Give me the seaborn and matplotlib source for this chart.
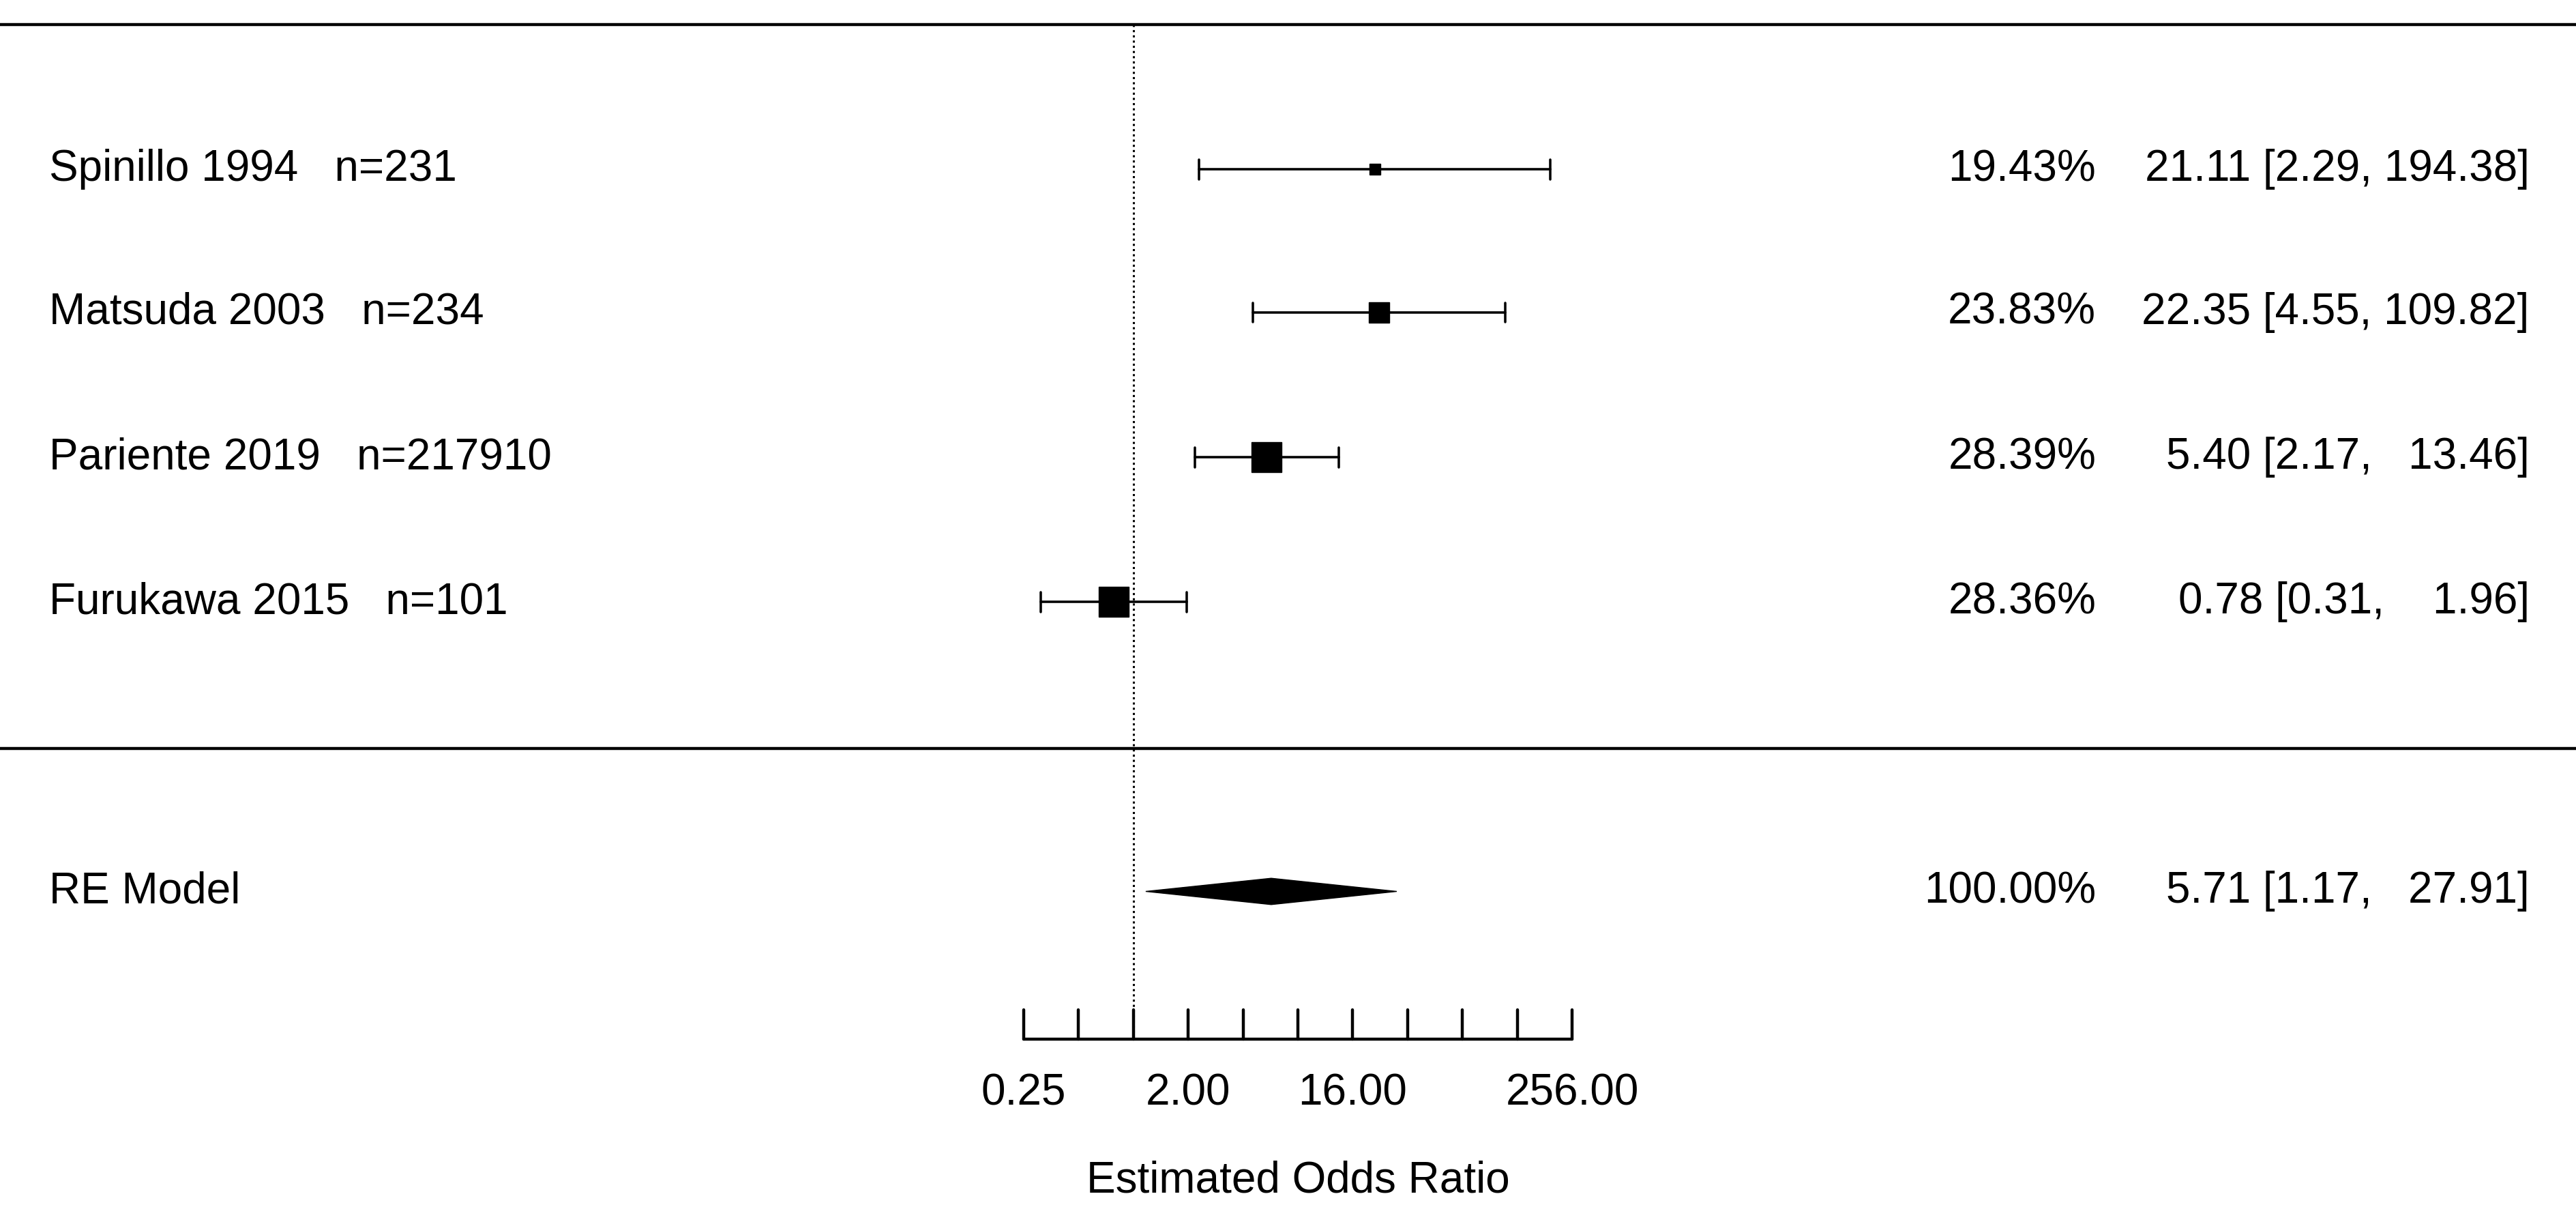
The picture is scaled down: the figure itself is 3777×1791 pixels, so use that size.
import numpy as np
import matplotlib.pyplot as plt
import seaborn as sns
import pandas as pd

# study data
studies = ['Spinillo 1994   n=231', 'Matsuda 2003   n=234',
           'Pariente 2019   n=217910', 'Furukawa 2015   n=101']
odds = [21.11, 22.35, 5.40, 0.78]
ci_low = [2.29, 4.55, 2.17, 0.31]
ci_high = [194.38, 109.82, 13.46, 1.96]
weights = [19.43, 23.83, 28.39, 28.36]
model_label = 'RE Model'
model_or = 5.71
model_low = 1.17
model_high = 27.91
tick_vals = [0.25, 0.5, 1, 2, 4, 8, 16, 32, 64, 128, 256]
tick_labels = ['0.25', '', '', '2.00', '', '', '16.00', '', '', '', '256.00']

sns.set_theme(style='white')
plt.rcParams['font.family'] = ['Liberation Sans', 'DejaVu Sans']
plt.rcParams['text.color'] = 'black'

fig = plt.figure(figsize=(37.77, 17.91), dpi=100)
ax = fig.add_axes([0, 0, 1, 1])
# x in log2 units, y in display rows (top = 0)
ax.set_xlim(-20.66, 26.3)
ax.set_ylim(743, 0)
ax.axis('off')

lw = 3.2
fs = 46
row_y = [103, 190, 278, 366]
df = pd.DataFrame({'study': studies, 'x': np.log2(odds), 'y': row_y, 'w': weights})

# separator lines
ax.plot([-20.66, 26.3], [15, 15], color='black', lw=lw)
ax.plot([-20.66, 26.3], [455, 455], color='black', lw=lw)
# reference line at OR = 1
ax.plot([0, 0], [15, 632], color='black', lw=2.2, linestyle=(0, (1, 1.5)))

# CIs
for lo, hi, y in zip(ci_low, ci_high, row_y):
    ax.plot([np.log2(lo), np.log2(hi)], [y, y], color='black', lw=lw * 0.8)
    for v in (lo, hi):
        ax.plot([np.log2(v), np.log2(v)], [y - 6, y + 6], color='black', lw=lw * 0.8)

# squares sized by weight
sizes = [12, 21, 31, 31]
for (_, r), s in zip(df.iterrows(), sizes):
    ax.plot(r['x'], r['y'], marker='s', color='black', markersize=s, linestyle='none')

for s, w, o, lo, hi, y in zip(studies, weights, odds, ci_low, ci_high, row_y):
    ax.text(-19.76, y, s, fontsize=fs, va='center', ha='left')
    ax.text(17.55, y, f'{w:.2f}%', fontsize=fs, va='center', ha='right')
    ax.text(25.45, y, f'{o:.2f} [{lo:.2f}, {hi:>6.2f}]'.replace('  ', '   '),
            fontsize=fs, va='center', ha='right')

# RE diamond
my = 542
dx = [np.log2(model_low), np.log2(model_or), np.log2(model_high), np.log2(model_or)]
dy = [my, my - 8, my, my + 8]
ax.fill(dx, dy, color='black')
ax.text(-19.76, my, model_label, fontsize=fs, va='center', ha='left')
ax.text(17.55, my, '100.00%', fontsize=fs, va='center', ha='right')
ax.text(25.45, my, f'{model_or:.2f} [{model_low:.2f}, {model_high:>6.2f}]'.replace('  ', '   '),
        fontsize=fs, va='center', ha='right')

# x axis
lt = np.log2(tick_vals)
ax.plot([lt[0], lt[-1]], [632, 632], color='black', lw=lw)
for t, lab in zip(lt, tick_labels):
    ax.plot([t, t], [614, 632], color='black', lw=lw)
    if lab:
        ax.text(t, 665, lab, fontsize=fs, ha='center', va='center')
ax.text(np.mean([lt[0], lt[-1]]), 718, 'Estimated Odds Ratio', fontsize=fs,
        ha='center', va='center')

fig.savefig('out.png', dpi=100)
